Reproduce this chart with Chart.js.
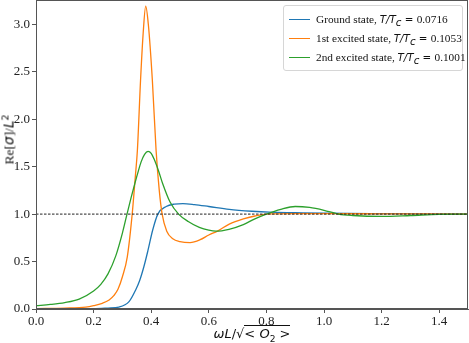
<!DOCTYPE html>
<html>
<head>
<meta charset="utf-8">
<script src="https://cdn.jsdelivr.net/npm/chart.js@4/dist/chart.umd.min.js"></script>
<style>
  html, body { margin: 0; padding: 0; background: #fff; }
  #wrap { position: relative; width: 469px; height: 343px; overflow: hidden; }
  #c { position: absolute; left: 0; top: 0; }
  .serif { font-family: "Liberation Serif", "Times New Roman", serif; }
  .mi { font-family: "DejaVu Sans", sans-serif; font-style: italic; }
  .mr { font-family: "DejaVu Sans", sans-serif; }
  #legend { position: absolute; left: 283px; top: 5px; width: 180px; height: 66px;
    border: 1px solid #d6d6d6; border-radius: 3px; background: rgba(255,255,255,0.85);
    box-sizing: border-box; padding: 4px 0 0 5px; }
  .row { height: 19px; line-height: 19px; white-space: nowrap; font-size: 11.3px; color: #111; }
  .row .mi, .row .mr { font-size: 10.3px; }
  .row sub { font-size: 7.5px; }
  .handle { display: inline-block; width: 21px; height: 1.5px; vertical-align: middle;
    margin-right: 6px; position: relative; top: -1px; }
  #xt { position: absolute; left: 0; width: 504px; top: 326px; text-align: center;
    font-size: 13px; color: #111; white-space: nowrap; }
  #yt { position: absolute; left: -43px; top: 131px; width: 104px; text-align: center;
    font-size: 13.5px; color: #111; white-space: nowrap; transform: rotate(-90deg); }
  .ov { border-top: 1px solid #111; }
  sub, sup { font-size: 70%; line-height: 0; }
</style>
</head>
<body>
<div id="wrap">
  <canvas id="c" width="469" height="343"></canvas>
  <div id="legend"></div>
  <div id="xt"><span class="mi">ωL</span><span class="mr">/√</span><span class="mr ov">&lt;&nbsp;<span class="mi">O</span><sub class="mr">2</sub>&nbsp;&gt;</span></div>
  <div id="yt"><span class="serif">Re[</span><span class="mi">σ</span><span class="serif">]/</span><span class="mi">L</span><sup class="mr">2</sup></div>
</div>
<script>
// ---- data ----
const seriesNames = ['Ground state', '1st excited state', '2nd excited state'];
const seriesTemps = ['0.0716', '0.1053', '0.1001'];
const seriesColors = ['#1f77b4', '#ff7f0e', '#2ca02c'];

const groundX = [0, 0.2, 0.25, 0.288, 0.323, 0.346, 0.36, 0.375, 0.389, 0.405, 0.423, 0.452, 0.48, 0.51, 0.55, 0.6, 0.671, 0.75, 0.81, 0.9, 1.0, 1.2, 1.5];
const groundY = [0.0, 0.003, 0.01, 0.02, 0.077, 0.2, 0.3, 0.45, 0.62, 0.83, 1.0, 1.08, 1.105, 1.11, 1.1, 1.08, 1.05, 1.03, 1.02, 1.015, 1.01, 1.005, 1.0];

const firstX = [0, 0.1, 0.173, 0.2, 0.23, 0.254, 0.27, 0.285, 0.3, 0.317, 0.334, 0.345, 0.352, 0.363, 0.372, 0.381, 0.39, 0.404, 0.417, 0.428, 0.438, 0.454, 0.475, 0.5, 0.535, 0.57, 0.6, 0.63, 0.671, 0.72, 0.76, 0.8, 0.9, 1.0, 1.2, 1.5];
const firstY = [0.005, 0.01, 0.02, 0.035, 0.06, 0.095, 0.14, 0.21, 0.34, 0.55, 1.0, 1.4, 1.67, 2.41, 2.9, 3.19, 3.0, 2.41, 1.67, 1.25, 1.0, 0.82, 0.74, 0.71, 0.70, 0.73, 0.78, 0.82, 0.895, 0.95, 0.98, 1.0, 1.005, 1.005, 1.003, 1.0];

const secondX = [0, 0.05, 0.1, 0.15, 0.2, 0.225, 0.25, 0.277, 0.3, 0.316, 0.33, 0.343, 0.355, 0.365, 0.377, 0.389, 0.4, 0.41, 0.425, 0.44, 0.465, 0.495, 0.53, 0.567, 0.6, 0.625, 0.67, 0.72, 0.76, 0.8, 0.85, 0.9, 0.95, 1.0, 1.05, 1.1, 1.2, 1.3, 1.4, 1.5];
const secondY = [0.035, 0.048, 0.068, 0.105, 0.19, 0.26, 0.37, 0.56, 0.8, 1.0, 1.17, 1.32, 1.45, 1.55, 1.63, 1.66, 1.64, 1.58, 1.46, 1.32, 1.13, 1.0, 0.92, 0.86, 0.83, 0.82, 0.84, 0.89, 0.95, 1.0, 1.05, 1.08, 1.07, 1.04, 1.0, 0.985, 0.975, 0.985, 0.998, 1.0];

const refX = [0, 1.5];
const refY = [1.0, 1.0];

const xTicks = [0.0, 0.2, 0.4, 0.6, 0.8, 1.0, 1.2, 1.4];
const yTicks = [0.0, 0.5, 1.0, 1.5, 2.0, 2.5, 3.0];
const xMin = 0, xMax = 1.5, yMin = 0, yMax = 3.256;

// ---- legend ----
const leg = document.getElementById('legend');
seriesNames.forEach((n, i) => {
  const row = document.createElement('div');
  row.className = 'row';
  row.innerHTML = '<span class="handle" style="background:' + seriesColors[i] + '"></span>' +
    '<span class="serif">' + n + ', </span><span class="mi">T/T</span><sub class="mi">c</sub>' +
    '<span class="mr"> = </span><span class="serif">' + seriesTemps[i] + '</span>';
  leg.appendChild(row);
});

const pts = (xs, ys) => xs.map((x, i) => ({ x: x, y: ys[i] }));
const tickFont = { family: '"Liberation Serif", "Times New Roman", serif', size: 13 };

const framePlugin = {
  id: 'frame',
  afterDraw(chart) {
    const a = chart.chartArea, ctx = chart.ctx;
    ctx.save();
    ctx.strokeStyle = '#555';
    ctx.lineWidth = 1;
    ctx.strokeRect(Math.round(a.left) + 0.5, Math.round(a.top) + 0.5,
      Math.round(a.right - a.left) - 1, Math.round(a.bottom - a.top) - 1);
    ctx.restore();
  }
};

const lineDs = (label, xs, ys, color, order) => ({
  label: label, data: pts(xs, ys), borderColor: color, borderWidth: 1.3,
  pointRadius: 0, fill: false, cubicInterpolationMode: 'monotone', order: order
});

new Chart(document.getElementById('c'), {
  type: 'line',
  data: {
    datasets: [
      lineDs(seriesNames[0], groundX, groundY, seriesColors[0], 3),
      lineDs(seriesNames[1], firstX, firstY, seriesColors[1], 2),
      lineDs(seriesNames[2], secondX, secondY, seriesColors[2], 1),
      { label: 'ref', data: pts(refX, refY), borderColor: '#222', borderWidth: 1,
        borderDash: [2.5, 1.5], pointRadius: 0, order: 0, tension: 0 }
    ]
  },
  options: {
    responsive: false,
    animation: false,
    layout: { padding: { top: 0, right: 1, left: 0, bottom: 0 } },
    plugins: { legend: { display: false }, tooltip: { enabled: false } },
    scales: {
      x: {
        type: 'linear', min: xMin, max: xMax,
        afterBuildTicks: s => { s.ticks = xTicks.map(v => ({ value: v })); },
        afterFit: s => { s.height = 34; s.paddingLeft = 0; s.paddingRight = 0; },
        ticks: { callback: v => Number(v).toFixed(1), font: tickFont, color: '#222',
          padding: 1, maxRotation: 0, autoSkip: false },
        grid: { drawOnChartArea: false, tickLength: 4, color: '#555' },
        border: { color: '#555' }
      },
      y: {
        type: 'linear', min: yMin, max: yMax,
        afterBuildTicks: s => { s.ticks = yTicks.map(v => ({ value: v })); },
        afterFit: s => { s.width = 36; s.paddingTop = 0; s.paddingBottom = 0; },
        ticks: { callback: v => Number(v).toFixed(1), font: tickFont, color: '#222',
          padding: 2, autoSkip: false },
        grid: { drawOnChartArea: false, tickLength: 4, color: '#555' },
        border: { color: '#555' }
      }
    }
  },
  plugins: [framePlugin]
});
</script>
</body>
</html>
